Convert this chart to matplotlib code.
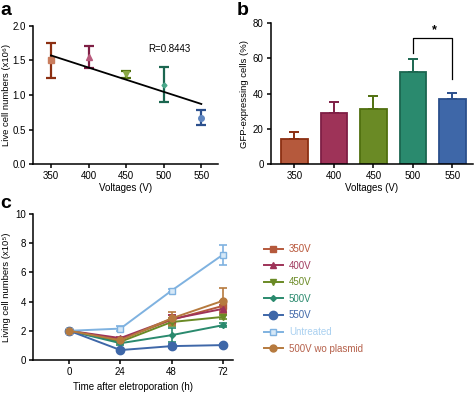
import matplotlib
matplotlib.use("Agg")
import matplotlib.pyplot as plt
import numpy as np

plt.rcParams["font.family"] = ["Liberation Sans", "DejaVu Sans"]
plt.rcParams["font.size"] = 7

# panel a: live cell numbers vs voltage
voltages = [350, 400, 450, 500, 550]
live_mean = [1.50, 1.55, 1.30, 1.15, 0.67]
live_err = [0.25, 0.16, 0.05, 0.25, 0.11]
fit_x = [350, 550]
fit_y = [1.57, 0.87]

# panel b: GFP-expressing cells
gfp_mean = [14.5, 29.0, 31.0, 52.0, 37.0]
gfp_err = [3.5, 6.0, 7.5, 7.5, 3.5]

# panel c: growth after electroporation
hours = [0, 24, 48, 72]
series_names = ["350V", "400V", "450V", "500V", "550V", "Untreated", "500V wo plasmid"]
series_vals = [
    [2.0, 1.40, 2.75, 3.70],
    [2.0, 1.50, 2.80, 3.50],
    [2.0, 1.25, 2.60, 2.95],
    [2.0, 1.15, 1.70, 2.38],
    [2.0, 0.68, 0.95, 1.02],
    [2.0, 2.15, 4.75, 7.20],
    [2.0, 1.35, 2.85, 4.05],
]
series_errs = [
    [0.05, 0.10, 0.30, 0.35],
    [0.05, 0.10, 0.25, 0.30],
    [0.05, 0.10, 0.30, 0.15],
    [0.05, 0.10, 0.50, 0.15],
    [0.05, 0.08, 0.15, 0.08],
    [0.05, 0.15, 0.10, 0.70],
    [0.05, 0.15, 0.45, 0.85],
]

dark = ["#8c2f12", "#7e1f45", "#50700f", "#1b6650", "#2b4f8c"]
mid = ["#b5593c", "#9e3358", "#6a8a25", "#2a8a6e", "#3e67a8"]
light = ["#c97d5e", "#b85a7c", "#8aa845", "#4aa88a", "#5f86c0"]
line_cols = mid + ["#7fb2e0", "#b67a3e"]
text_cols = ["#b8563a", "#a03a5e", "#6a8a25", "#2a8a6e", "#3e67a8", "#a9d0f0", "#b5604a"]
markers_a = ["s", "^", "v", "D", "o"]
markers_c = ["s", "^", "v", "D", "o", "s", "o"]
msizes_c = [4, 4.5, 4.5, 3, 6, 5, 5]

fig = plt.figure(figsize=(4.74, 3.94), dpi=100)


def style(ax):
    for s in ["top", "right"]:
        ax.spines[s].set_visible(False)
    for s in ["left", "bottom"]:
        ax.spines[s].set_linewidth(1.1)
    ax.tick_params(width=1.1, length=3, pad=2, labelsize=7)


# ---- a
ax = fig.add_axes([0.0696, 0.583, 0.390, 0.352])
style(ax)
for i, v in enumerate(voltages):
    ax.errorbar(v, live_mean[i], yerr=live_err[i], fmt="none", ecolor=dark[i],
                elinewidth=1.6, capsize=3.5, capthick=1.6)
    ax.plot(v, live_mean[i], marker=markers_a[i], color=light[i],
            ms=4 if markers_a[i] != "D" else 2.5, ls="none", zorder=3)
ax.plot(fit_x, fit_y, color="black", lw=1.3, zorder=4)
ax.text(508, 1.66, "R=0.8443", ha="center", va="center", fontsize=7)
ax.set_xlim(326, 572)
ax.set_ylim(0, 2.0)
ax.set_xticks(voltages)
ax.set_yticks([0, 0.5, 1.0, 1.5, 2.0])
ax.set_yticklabels(["0.0", "0.5", "1.0", "1.5", "2.0"])
ax.set_xlabel("Voltages (V)", labelpad=1)
ax.set_ylabel("Live cell numbers (x10⁶)", fontsize=6.8)
ax.yaxis.set_label_coords(-0.12, 0.5)

# ---- b
ax = fig.add_axes([0.571, 0.583, 0.427, 0.359])
style(ax)
xpos = np.arange(len(voltages))
ax.bar(xpos, gfp_mean, width=0.67, color=mid, edgecolor=dark, linewidth=1.3, zorder=2)
for i in xpos:
    ax.errorbar(i, gfp_mean[i], yerr=[[0], [gfp_err[i]]], fmt="none", ecolor=dark[i],
                elinewidth=1.4, capsize=3.5, capthick=1.4, zorder=1)
ax.plot([3, 3, 4, 4], [63, 71.5, 71.5, 48.5], color="black", lw=0.9)
ax.text(3.55, 76, "*", ha="center", va="center", fontsize=9, fontweight="bold")
ax.set_xlim(-0.6, 4.52)
ax.set_ylim(0, 80)
ax.set_xticks(xpos)
ax.set_xticklabels([str(v) for v in voltages])
ax.set_yticks([0, 20, 40, 60, 80])
ax.set_xlabel("Voltages (V)", labelpad=1)
ax.set_ylabel("GFP-expressing cells (%)", fontsize=6.8)
ax.yaxis.set_label_coords(-0.105, 0.5)

# ---- c
ax = fig.add_axes([0.0703, 0.0863, 0.421, 0.3706])
style(ax)
handles = []
for i, name in enumerate(series_names):
    mfc = "#d6e8f7" if name == "Untreated" else line_cols[i]
    h = ax.errorbar(hours, series_vals[i], yerr=series_errs[i], color=line_cols[i],
                    marker=markers_c[i], ms=msizes_c[i], mfc=mfc, mec=line_cols[i],
                    lw=1.4, elinewidth=1.2, capsize=3, capthick=1.2, label=name)
    handles.append(h.lines[0])
ax.set_xlim(-16.9, 76.8)
ax.set_ylim(0, 10)
ax.set_xticks(hours)
ax.set_yticks([0, 2, 4, 6, 8, 10])
ax.set_xlabel("Time after eletroporation (h)", labelpad=4)
ax.set_ylabel("Living cell numbers (x10⁵)", fontsize=6.8)
ax.yaxis.set_label_coords(-0.11, 0.5)
leg = fig.legend(handles=handles, labels=series_names, loc="upper left",
                 bbox_to_anchor=(0.538, 0.403), frameon=False, fontsize=7,
                 handlelength=2.0, handletextpad=0.6, labelspacing=0.68)
for t, c in zip(leg.get_texts(), text_cols):
    t.set_color(c)

fig.text(0.0, 0.995, "a", fontsize=14, fontweight="bold", va="top")
fig.text(0.50, 0.995, "b", fontsize=14, fontweight="bold", va="top")
fig.text(0.0, 0.505, "c", fontsize=14, fontweight="bold", va="top")

fig.savefig("out.png", dpi=100)
